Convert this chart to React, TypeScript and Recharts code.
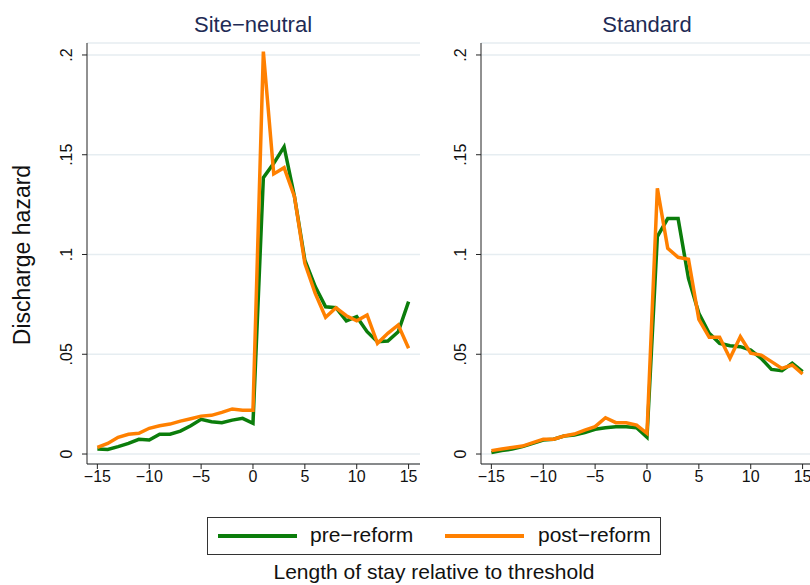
import React from "react";
import { LineChart, Line, XAxis, YAxis, CartesianGrid } from "recharts";

const days = [
    -15, -14, -13, -12, -11, -10, -9, -8, -7, -6, -5, -4, -3, -2, -1, 0, 1, 2, 3,
    4, 5, 6, 7, 8, 9, 10, 11, 12, 13, 14, 15,
];

const siteNeutralPre = [
    0.0025, 0.0023, 0.0037, 0.0053, 0.0074, 0.007, 0.0099, 0.0099, 0.0115,
    0.0142, 0.0174, 0.0162, 0.0157, 0.017, 0.0179, 0.0154, 0.1385, 0.1457,
    0.154, 0.129, 0.0972, 0.0839, 0.0738, 0.0733, 0.0667, 0.0688, 0.0613,
    0.0563, 0.0566, 0.0613, 0.0764,
];
const siteNeutralPost = [
    0.0033, 0.0053, 0.0084, 0.0099, 0.0104, 0.0129, 0.0142, 0.015, 0.0165,
    0.0177, 0.019, 0.0194, 0.0209, 0.0226, 0.022, 0.022, 0.2017, 0.1404, 0.1435,
    0.129, 0.0956, 0.0805, 0.0685, 0.0733, 0.0693, 0.0668, 0.0697, 0.0555,
    0.0605, 0.0647, 0.053,
];
const standardPre = [
    0.0007, 0.0017, 0.0025, 0.0037, 0.0053, 0.007, 0.0074, 0.009, 0.0095,
    0.0107, 0.0124, 0.0132, 0.0137, 0.0137, 0.0132, 0.0084, 0.109, 0.118,
    0.118, 0.088, 0.0705, 0.0605, 0.0555, 0.0543, 0.0538, 0.0521, 0.048,
    0.0424, 0.0418, 0.0455, 0.0413,
];
const standardPost = [
    0.0017, 0.0025, 0.0033, 0.004, 0.0057, 0.0074, 0.0074, 0.009, 0.01, 0.012,
    0.0137, 0.0182, 0.0157, 0.0157, 0.0145, 0.0104, 0.1332, 0.1031, 0.0986,
    0.0976, 0.0675, 0.0585, 0.0585, 0.048, 0.0588, 0.0505, 0.0496, 0.0463,
    0.0429, 0.0446, 0.0401,
];

const xTicks = [-15, -10, -5, 0, 5, 10, 15];
const yTicks = [0, 0.05, 0.1, 0.15, 0.2];

const GREEN = "#0b7d0b";
const ORANGE = "#ff8000";
const FONT = "'Liberation Sans', Arial, sans-serif";

const fmtX = (v: number) => (v < 0 ? "\u2212" + Math.abs(v) : String(v));
const fmtY = (v: number) => (v === 0 ? "0" : String(v).replace(/^0/, ""));

const YTick = (props: any) => {
    const { x, y, payload } = props;
    return (
        <text
            x={x}
            y={y}
            transform={`rotate(-90, ${x}, ${y})`}
            textAnchor="middle"
            fontSize={16}
            fontFamily={FONT}
            fill="#111"
        >
            {fmtY(payload.value)}
        </text>
    );
};

function Panel({
    pre,
    post,
    yWidth,
}: {
    pre: number[];
    post: number[];
    yWidth: number;
}) {
    const rows = days.map((d, i) => ({ day: d, pre: pre[i], post: post[i] }));
    return (
        <LineChart
            width={yWidth + 333 + 10}
            height={494}
            data={rows}
            margin={{ top: 43, right: 10, left: 0, bottom: 0 }}
        >
            <CartesianGrid
                vertical={false}
                stroke="#e6edf1"
                strokeWidth={1.5}
            />
            <XAxis
                dataKey="day"
                type="number"
                domain={[-16, 16.1]}
                ticks={xTicks}
                tickFormatter={fmtX}
                height={30}
                tickSize={5}
                stroke="#222"
                tick={{ fontSize: 16, fill: "#111", fontFamily: FONT }}
                allowDataOverflow
            />
            <YAxis
                type="number"
                domain={[-0.005, 0.206]}
                ticks={yTicks}
                width={yWidth}
                tickSize={5}
                tickMargin={10}
                stroke="#222"
                tick={<YTick />}
                allowDataOverflow
            />
            <Line
                dataKey="pre"
                stroke={GREEN}
                strokeWidth={3.5}
                dot={false}
                isAnimationActive={false}
            />
            <Line
                dataKey="post"
                stroke={ORANGE}
                strokeWidth={3.5}
                dot={false}
                isAnimationActive={false}
            />
        </LineChart>
    );
}

export default function App() {
    const titleStyle: React.CSSProperties = {
        position: "absolute",
        top: 12,
        fontSize: 22,
        color: "#1e2b55",
        textAlign: "center",
        width: 300,
    };
    return (
        <div
            style={{
                position: "absolute",
                left: 0,
                top: 0,
                width: 810,
                height: 585,
                overflow: "hidden",
                background: "#fff",
                fontFamily: FONT,
            }}
        >
            <div style={{ ...titleStyle, left: 253 - 150 }}>Site{"\u2212"}neutral</div>
            <div style={{ ...titleStyle, left: 647 - 150 }}>Standard</div>
            <div
                style={{
                    position: "absolute",
                    left: 22,
                    top: 255,
                    fontSize: 23,
                    color: "#111",
                    whiteSpace: "nowrap",
                    transform: "translate(-50%, -50%) rotate(-90deg)",
                }}
            >
                Discharge hazard
            </div>
            <div style={{ position: "absolute", left: 0, top: 0 }}>
                <Panel pre={siteNeutralPre} post={siteNeutralPost} yWidth={87} />
            </div>
            <div style={{ position: "absolute", left: 430, top: 0 }}>
                <Panel pre={standardPre} post={standardPost} yWidth={51} />
            </div>
            <div
                style={{
                    position: "absolute",
                    left: 207,
                    top: 517,
                    width: 454,
                    height: 38,
                    border: "1px solid #333",
                    boxSizing: "border-box",
                    fontSize: 21,
                    color: "#111",
                }}
            >
                <svg
                    width={454}
                    height={38}
                    style={{ position: "absolute", left: 0, top: 0 }}
                >
                    <line x1={10} x2={89} y1={18} y2={18} stroke={GREEN} strokeWidth={4} />
                    <line x1={237} x2={316} y1={18} y2={18} stroke={ORANGE} strokeWidth={4} />
                </svg>
                <span style={{ position: "absolute", left: 102, top: 5 }}>
                    pre{"\u2212"}reform
                </span>
                <span style={{ position: "absolute", left: 330, top: 5 }}>
                    post{"\u2212"}reform
                </span>
            </div>
            <div
                style={{
                    position: "absolute",
                    left: 0,
                    width: 868,
                    top: 560,
                    textAlign: "center",
                    fontSize: 21,
                    color: "#111",
                }}
            >
                Length of stay relative to threshold
            </div>
        </div>
    );
}
